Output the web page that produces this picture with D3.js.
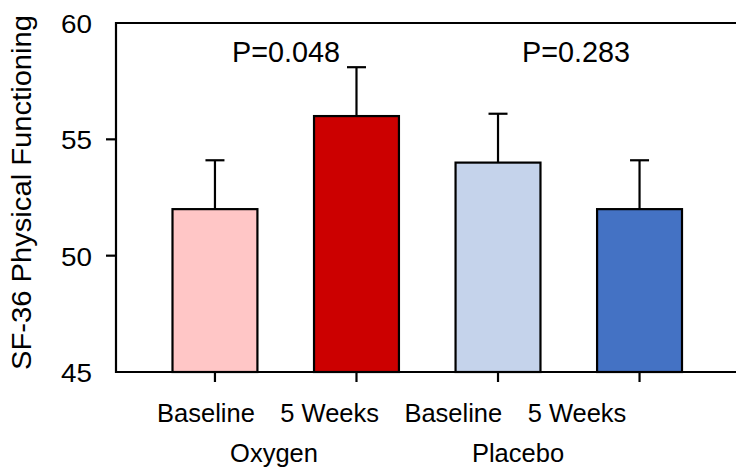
<!DOCTYPE html>
<html>
<head>
<meta charset="utf-8">
<script src="https://cdn.jsdelivr.net/npm/d3@7"></script>
<style>
  body { margin: 0; background: #fff; }
  text { font-family: "Liberation Sans", Arial, sans-serif; fill: #000; }
</style>
</head>
<body>
<svg id="chart"></svg>
<script>
const width = 736, height = 473;

// data
const categories = ["Baseline", "5 Weeks", "Baseline", "5 Weeks"];
const means = [52, 56, 54, 52];
const errors = [2.1, 2.1, 2.1, 2.1];
const barColors = ["#ffc6c6", "#cc0000", "#c5d3eb", "#4472c4"];
const groups = ["Oxygen", "Placebo"];
const pValues = ["P=0.048", "P=0.283"];
const yTicks = [45, 50, 55, 60];

const plotLeft = 116, plotTop = 23, plotBottom = 372;

const svg = d3.select("#chart")
    .attr("width", width)
    .attr("height", height);

const y = d3.scaleLinear().domain([45, 60]).range([plotBottom, plotTop]);

//bars sit in bands, one per category
const x = d3.scaleBand()
    .domain(d3.range(categories.length))
    .range([172.5, 682])
    .paddingInner(0.4)
    .paddingOuter(0);

//category labels are drawn a bit to the left of the bars in the original
const xLabel = d3.scalePoint().domain(d3.range(categories.length)).range([206, 577]);
const xGroup = d3.scalePoint().domain(groups).range([274, 518]);
const xP = d3.scalePoint().domain(pValues).range([286, 576]);

//bars
svg.selectAll(".bar")
    .data(means)
    .enter().append("rect")
    .attr("class", "bar")
    .attr("x", (d, i) => x(i))
    .attr("y", d => y(d))
    .attr("width", x.bandwidth())
    .attr("height", d => y(45) - y(d))
    .style("fill", (d, i) => barColors[i])
    .style("stroke", "#000")
    .style("stroke-width", 2.2);

//error bars (upper only)
const err = svg.selectAll(".err")
    .data(means)
    .enter().append("g")
    .attr("class", "err")
    .attr("transform", (d, i) => `translate(${x(i) + x.bandwidth() / 2},0)`);

err.append("line")
    .attr("y1", d => y(d))
    .attr("y2", (d, i) => y(d + errors[i]))
    .style("stroke", "#000")
    .style("stroke-width", 2.2);

err.append("line")
    .attr("x1", -9.5).attr("x2", 9.5)
    .attr("y1", (d, i) => y(d + errors[i]))
    .attr("y2", (d, i) => y(d + errors[i]))
    .style("stroke", "#000")
    .style("stroke-width", 2.2);

//frame: left, top, bottom (runs off the right edge)
svg.append("path")
    .attr("d", `M${width},${plotTop}H${plotLeft}V${plotBottom}H${width}`)
    .style("fill", "none")
    .style("stroke", "#000")
    .style("stroke-width", 2.2);

//y ticks
svg.selectAll(".ytick")
    .data(yTicks.filter(d => d > 45 && d < 60))
    .enter().append("line")
    .attr("x1", plotLeft - 10).attr("x2", plotLeft)
    .attr("y1", d => y(d)).attr("y2", d => y(d))
    .style("stroke", "#000")
    .style("stroke-width", 2.2);

svg.selectAll(".ylab")
    .data(yTicks)
    .enter().append("text")
    .attr("x", 92)
    .attr("y", d => y(d) + 10)
    .attr("text-anchor", "end")
    .attr("textLength", 31)
    .attr("lengthAdjust", "spacingAndGlyphs")
    .style("font-size", "25px")
    .text(d => d);

//x ticks
svg.selectAll(".xtick")
    .data(means)
    .enter().append("line")
    .attr("x1", (d, i) => x(i) + x.bandwidth() / 2)
    .attr("x2", (d, i) => x(i) + x.bandwidth() / 2)
    .attr("y1", plotBottom).attr("y2", plotBottom + 10)
    .style("stroke", "#000")
    .style("stroke-width", 2.2);

svg.selectAll(".xlab")
    .data(categories)
    .enter().append("text")
    .attr("x", (d, i) => xLabel(i))
    .attr("y", 422)
    .attr("text-anchor", "middle")
    .style("font-size", "25.5px")
    .text(d => d);

svg.selectAll(".glab")
    .data(groups)
    .enter().append("text")
    .attr("x", d => xGroup(d))
    .attr("y", 462)
    .attr("text-anchor", "middle")
    .style("font-size", "25.5px")
    .text(d => d);

svg.selectAll(".pval")
    .data(pValues)
    .enter().append("text")
    .attr("x", d => xP(d))
    .attr("y", 62)
    .attr("text-anchor", "middle")
    .style("font-size", "28.8px")
    .text(d => d);

//y axis title
svg.append("text")
    .attr("transform", "translate(31,192.5) rotate(-90)")
    .attr("text-anchor", "middle")
    .attr("textLength", 355)
    .attr("lengthAdjust", "spacingAndGlyphs")
    .style("font-size", "27px")
    .text("SF-36 Physical Functioning");
</script>
</body>
</html>
